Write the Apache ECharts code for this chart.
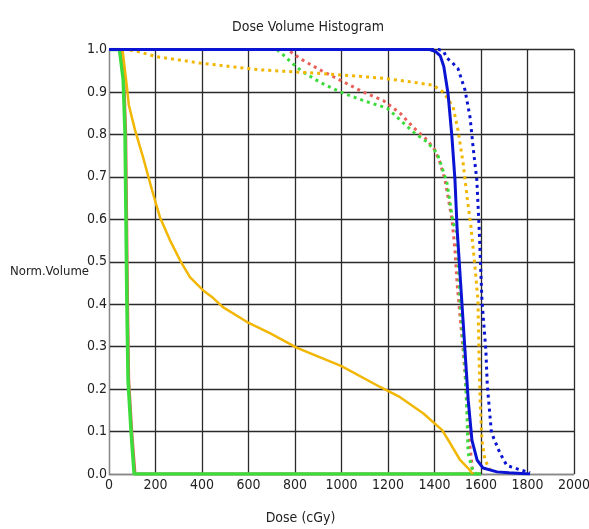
<!DOCTYPE html>
<html>
<head>
<meta charset="utf-8">
<script src="https://cdn.jsdelivr.net/npm/echarts@6/dist/echarts.min.js"></script>
<style>html,body{margin:0;padding:0;background:#fff}#c{width:589px;height:529px}</style>
</head>
<body>
<div id="c"></div>
<script>
// x-axis ticks (dose, cGy) and y-axis ticks (normalised volume)
const xTicks = [0, 200, 400, 600, 800, 1000, 1200, 1400, 1600, 1800, 2000];
const yTicks = [0.0, 0.1, 0.2, 0.3, 0.4, 0.5, 0.6, 0.7, 0.8, 0.9, 1.0];

// Red solid
const redSolidDose = [0, 50, 64, 72, 80, 85, 98, 112, 1600];
const redSolidVol  = [1.0, 1.0, 0.93, 0.8, 0.4, 0.22, 0.1, 0.0, 0.0];
// Green solid
const greenSolidDose = [0, 45, 61, 69, 73, 77, 82, 95, 108, 1600];
const greenSolidVol  = [1.0, 1.0, 0.93, 0.8, 0.6, 0.4, 0.22, 0.1, 0.0, 0.0];
// Yellow solid
const yellowSolidDose = [0, 58, 77, 85, 112, 146, 185, 219, 262, 305, 348, 404, 447, 490, 594, 692, 809, 1000, 1166, 1252, 1351, 1432, 1467, 1510, 1544, 1565];
const yellowSolidVol  = [1.0, 1.0, 0.912, 0.87, 0.81, 0.747, 0.669, 0.605, 0.551, 0.504, 0.464, 0.433, 0.415, 0.393, 0.358, 0.332, 0.297, 0.254, 0.205, 0.181, 0.143, 0.104, 0.073, 0.033, 0.014, 0.0];
// Red dotted
const redDotDose = [0, 770, 791, 834, 907, 994, 1092, 1179, 1252, 1308, 1368, 1402, 1424, 1445, 1458, 1475, 1488, 1497, 1510, 1523, 1531, 1540, 1550, 1565];
const redDotVol  = [1.0, 1.0, 0.99, 0.975, 0.952, 0.928, 0.9, 0.88, 0.85, 0.817, 0.787, 0.763, 0.733, 0.693, 0.653, 0.6, 0.528, 0.45, 0.37, 0.292, 0.238, 0.174, 0.08, 0.0];
// Green dotted
const greenDotDose = [0, 720, 735, 787, 834, 907, 994, 1092, 1196, 1252, 1308, 1368, 1411, 1432, 1454, 1467, 1480, 1497, 1510, 1531, 1540, 1544, 1561, 1580];
const greenDotVol  = [1.0, 1.0, 0.995, 0.968, 0.947, 0.923, 0.9, 0.88, 0.862, 0.834, 0.806, 0.782, 0.756, 0.723, 0.685, 0.638, 0.591, 0.568, 0.41, 0.252, 0.134, 0.05, 0.014, 0.0];
// Yellow dotted
const yellowDotDose = [0, 75, 125, 206, 391, 650, 900, 1166, 1308, 1394, 1437, 1480, 1501, 1523, 1540, 1557, 1574, 1587, 1591, 1596, 1604, 1617, 1639];
const yellowDotVol  = [1.0, 1.0, 0.995, 0.983, 0.968, 0.952, 0.944, 0.933, 0.923, 0.916, 0.9, 0.865, 0.81, 0.733, 0.653, 0.582, 0.488, 0.41, 0.292, 0.174, 0.08, 0.033, 0.01];
// Blue dotted
const blueDotDose = [0, 1420, 1440, 1453, 1475, 1501, 1531, 1553, 1566, 1582, 1592, 1604, 1621, 1627, 1645, 1681, 1711, 1768, 1811];
const blueDotVol  = [1.0, 1.0, 0.995, 0.98, 0.97, 0.955, 0.905, 0.84, 0.77, 0.693, 0.58, 0.41, 0.29, 0.21, 0.097, 0.05, 0.02, 0.01, 0.003];
// Blue solid
const blueSolidDose = [0, 1380, 1405, 1425, 1440, 1458, 1475, 1488, 1497, 1517, 1531, 1545, 1561, 1583, 1609, 1669, 1720, 1811];
const blueSolidVol  = [1.0, 1.0, 0.995, 0.985, 0.96, 0.897, 0.794, 0.693, 0.58, 0.41, 0.292, 0.174, 0.08, 0.033, 0.014, 0.005, 0.003, 0.0];

const FONT = "'Liberation Sans Narrow', 'Arial Narrow', 'DejaVu Sans Condensed', sans-serif";
const pairs = (xs, ys) => xs.map((x, i) => [x, ys[i]]);
const DOT = [3, 4];

function line(name, xs, ys, color, width, dashed) {
  return {
    name, type: 'line', data: pairs(xs, ys), showSymbol: false, symbol: 'none',
    smooth: false, animation: false,
    lineStyle: { color, width, type: dashed ? DOT : 'solid', cap: 'butt' }
  };
}

const chart = echarts.init(document.getElementById('c'), null, { renderer: 'canvas' });
chart.setOption({
  backgroundColor: '#fff',
  animation: false,
  title: {
    text: 'Dose Volume Histogram', left: 303, top: 15, textAlign: 'center',
    textStyle: { fontFamily: FONT, fontSize: 14, fontWeight: 'normal', color: '#222' }
  },
  grid: { left: 109, right: 15, top: 49.5, bottom: 55, containLabel: false, outerBoundsMode: 'none' },
  xAxis: {
    type: 'value', min: xTicks[0], max: xTicks[xTicks.length - 1], interval: 200,
    name: 'Dose (cGy)', nameLocation: 'middle', nameGap: 37, nameMoveOverlap: false,
    nameTextStyle: { fontFamily: FONT, fontSize: 14, color: '#222', padding: [0, 82, 0, 0] },
    axisLine: { show: true, lineStyle: { color: '#888', width: 1 } },
    axisTick: { show: false },
    axisLabel: { fontFamily: FONT, fontSize: 14, color: '#222', margin: 4, formatter: v => String(v) },
    splitLine: { show: true, lineStyle: { color: '#2a2a2a', width: 1.3 } }
  },
  yAxis: {
    type: 'value', min: yTicks[0], max: yTicks[yTicks.length - 1], interval: 0.1,
    name: 'Norm.Volume', nameLocation: 'middle', nameGap: 20, nameRotate: 0, nameMoveOverlap: false,
    nameTextStyle: { fontFamily: FONT, fontSize: 13, color: '#222', padding: [3, 0, 0, 0], align: 'right', verticalAlign: 'top' },
    axisLine: { show: true, lineStyle: { color: '#888', width: 1 } },
    axisTick: { show: false },
    axisLabel: { fontFamily: FONT, fontSize: 14, color: '#222', margin: 2, formatter: v => v.toFixed(1) },
    splitLine: { show: true, lineStyle: { color: '#2a2a2a', width: 1.3 } }
  },
  series: [
    line('Red solid', redSolidDose, redSolidVol, '#e8605a', 3, false),
    line('Green solid', greenSolidDose, greenSolidVol, '#3ddc3d', 3.5, false),
    line('Yellow solid', yellowSolidDose, yellowSolidVol, '#f2b705', 2.5, false),
    line('Red dotted', redDotDose, redDotVol, '#e8605a', 3, true),
    line('Green dotted', greenDotDose, greenDotVol, '#3ddc3d', 3, true),
    line('Yellow dotted', yellowDotDose, yellowDotVol, '#f2b705', 3, true),
    line('Blue dotted', blueDotDose, blueDotVol, '#0a14d2', 3, true),
    line('Blue solid', blueSolidDose, blueSolidVol, '#0a14d2', 3, false)
  ]
});
</script>
</body>
</html>
